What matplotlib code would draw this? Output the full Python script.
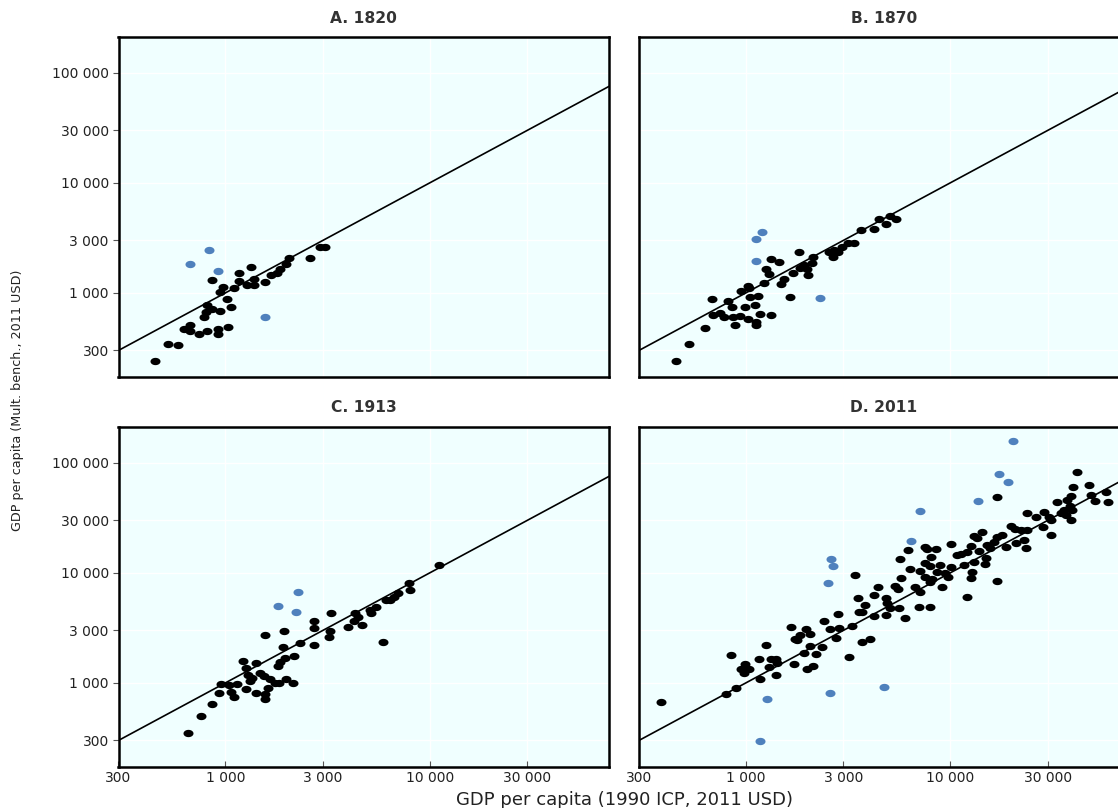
import matplotlib
matplotlib.use("Agg")
import matplotlib.pyplot as plt
import numpy as np
from matplotlib.path import Path
from matplotlib.ticker import FixedLocator, FuncFormatter, NullLocator

plt.rcParams['font.family'] = ['DejaVu Sans']

# ---------------- data ----------------
panel_titles = ["A. 1820", "B. 1870", "C. 1913", "D. 2011"]
tick_values = [300, 1000, 3000, 10000, 30000, 100000]
x_limits = (300, 75000)
y_limits = (172, 212000)

a_x = [453, 526, 587, 630, 672, 672, 742, 817, 919, 919, 1029, 788, 805, 812, 859, 943, 1064, 1017, 943, 979,
       1105, 859, 1160, 1165, 1328, 1275, 1374, 1374, 1555, 1677, 1789, 1842, 1980, 2039, 2605, 2916, 3086]
a_y = [241, 344, 337, 474, 512, 454, 421, 454, 468, 424, 488, 601, 672, 773, 715, 682, 741, 882, 1015, 1127,
       1103, 1305, 1294, 1529, 1734, 1182, 1182, 1332, 1267, 1457, 1511, 1643, 1835, 2068, 2094, 2603, 2636]
a_bx = [836, 672, 919, 1555]
a_by = [2460, 1847, 1594, 605]

b_x = [455, 528, 634, 681, 694, 749, 786, 822, 854, 886, 870, 938, 993, 1019, 1111, 1119, 1124, 1175, 1331, 1050,
       1153, 949, 1019, 1042, 1230, 1258, 1297, 1331, 1457, 1485, 1529, 1636, 1700, 1811, 1846, 1931, 2014, 1992,
       2107, 2131, 2541, 2658, 2688, 2813, 2956, 3149, 3396, 3664, 4223, 4468, 4836, 5099, 5457]
b_y = [241, 346, 478, 876, 631, 654, 601, 851, 751, 509, 601, 622, 751, 577, 773, 548, 512, 640, 631, 914,
       939, 1043, 1158, 1103, 1225, 1643, 1488, 2025, 1925, 1200, 1332, 914, 1529, 2374, 1677, 1797, 1457, 1653,
       1886, 2111, 2374, 2138, 2460, 2344, 2636, 2866, 2830, 3738, 3794, 4707, 4212, 5012, 4677]
b_bx = [1202, 1115, 1124, 2296]
b_by = [3563, 3077, 1954, 895]

c_x = [660, 759, 862, 936, 951, 1064, 1105, 1047, 1139, 1269, 1411, 1555, 1567, 1609, 1219, 1260, 1411, 1289,
       1349, 1323, 1470, 1538, 1658, 1741, 1836, 1980, 2143, 1809, 1842, 1965, 2175, 1905, 1567, 1927, 2309,
       2716, 2704, 2726, 3217, 3265, 3291, 3988, 4280, 4328, 4463, 4686, 5127, 5185, 5470, 5938, 6142, 6427,
       6671, 7010, 7935, 8054, 11085]
c_y = [351, 501, 648, 811, 979, 834, 746, 959, 973, 888, 806, 794, 720, 906, 1575, 1377, 1520, 1182, 1117,
       1043, 1240, 1158, 1080, 998, 998, 1080, 1006, 1427, 1552, 1698, 1760, 2111, 2732, 2970, 2296, 3661, 3143,
       2202, 2636, 2970, 4301, 3209, 3661, 4328, 4006, 3368, 4609, 4301, 4877, 2344, 5682, 5682, 6088, 6538,
       8161, 7005, 11820]
c_bx = [2275, 1816, 2207]
c_by = [6761, 5044, 4420]

d_x = [385, 804, 894, 845, 985, 945, 1042, 974, 1175, 1166, 1254, 1297, 1331, 1408, 1419, 1397, 1668, 1712,
       1745, 1832, 1779, 1969, 2067, 1931, 2067, 2194, 2348, 1992, 2131, 2421, 2591, 2835, 2845, 2763, 3185,
       3321, 3424, 3542, 3566, 3705, 3833, 3717, 4036, 4223, 4257, 4418,
       41950, 40100, 48040, 57940, 59270, 50990, 48750, 17000, 38880, 37470, 33460, 38580, 36060, 39640, 34730,
       36880, 38880, 28770, 30450, 31030, 26280, 23860, 28580, 31140, 19760, 20670, 22120, 23860, 22960, 23410,
       21070, 18670, 17000, 17990, 16370, 14240, 13050, 13570, 15190, 15640, 12580, 13810, 12120, 11240, 10830,
       10040, 8570, 7571, 7717, 6197, 14900, 13050, 14730, 11660, 10040, 8100, 7571, 8010, 8896, 5664, 7155,
       6390, 8640, 9485, 9736, 8164, 7571, 8010, 12820, 12580, 16870, 5754, 5354, 5562, 6761, 7097, 9068, 4857,
       4912, 5059, 5601, 7018, 8010, 12120, 4875, 5992]
d_y = [672, 790, 901, 1786, 1479, 1332, 1332, 1225, 1094, 1643, 2229, 1398, 1663, 1663, 1511, 1182, 3209, 1488,
       2496, 2732, 2460, 3077, 2772, 1886, 2169, 1835, 2111, 1332, 1437, 3661, 3096, 4212, 3182, 2581, 1713,
       3277, 9530, 5888, 4448, 4448, 5150, 2344, 2496, 6310, 4091, 7413,
       82300, 60120, 63100, 54840, 44480, 45430, 51190, 49390, 50120, 46090, 43920, 40650, 37390, 37390, 34890,
       33680, 30330, 36080, 32500, 30330, 32100, 34890, 26360, 22290, 26750, 25270, 24600, 24600, 19950, 16770,
       18620, 17340, 21380, 22010, 19250, 23590, 21690, 20680, 17970, 16770, 17710, 15940, 15620, 14880, 14490,
       18230, 16530, 17340, 16530, 16190, 13600, 12670, 12000, 11900, 11410, 13890, 12410, 11580, 11820, 13320,
       10490, 10800, 10270, 9937, 9140, 8820, 9140, 8334, 10270, 9064, 8511, 9064, 7663, 7153, 7506, 6675, 7506,
       5888, 5303, 4777, 4777, 4939, 4877, 6012, 4152, 3873]
d_bx = [2620, 2671, 2513, 1272, 2591, 1172, 20210, 17250, 19250, 13720, 7155, 6463, 4765]
d_by = [13410, 11580, 8060, 711, 806, 295, 159400, 78940, 66740, 45430, 36850, 19540, 920]

panels = [(a_x, a_y, a_bx, a_by), (b_x, b_y, b_bx, b_by), (c_x, c_y, c_bx, c_by), (d_x, d_y, d_bx, d_by)]

# ---------------- style ----------------
BG = "#F0FFFF"
BLUE = "#4F81BD"
theta = np.linspace(0, 2 * np.pi, 60)
ellipse = Path(np.column_stack([1.37 * np.cos(theta), np.sin(theta)]), closed=True)

W, H = 1118, 808
fig = plt.figure(figsize=(W / 100, H / 100), dpi=100)

ax_w, ax_h = 490 / W, 340 / H
lefts = [118.5 / W, 639 / W]
bottoms = [1 - 377 / H, 1 - 767 / H]

fmt = FuncFormatter(lambda v, p: f"{int(round(v)):,}".replace(",", " "))

for i, (bx, by, ux, uy) in enumerate(panels):
    row, col = divmod(i, 2)
    ax = fig.add_axes([lefts[col], bottoms[row], ax_w, ax_h])
    ax.set_facecolor(BG)
    ax.set_xscale("log")
    ax.set_yscale("log")
    ax.set_xlim(*x_limits)
    ax.set_ylim(*y_limits)
    ax.xaxis.set_major_locator(FixedLocator(tick_values))
    ax.yaxis.set_major_locator(FixedLocator(tick_values))
    ax.xaxis.set_minor_locator(NullLocator())
    ax.yaxis.set_minor_locator(NullLocator())
    ax.xaxis.set_major_formatter(fmt)
    ax.yaxis.set_major_formatter(fmt)
    ax.grid(True, color="white", linewidth=1.0)
    ax.set_axisbelow(True)
    for s in ax.spines.values():
        s.set_linewidth(1.8)
        s.set_color("black")

    ax.tick_params(axis="y", direction="out", length=4, width=0.8, color="#555555",
                   labelsize=10, labelcolor="#222222", pad=3,
                   left=(col == 0), labelleft=(col == 0))
    ax.tick_params(axis="x", direction="in", length=4, width=0.8, color="#555555",
                   labelsize=10, labelcolor="#222222", pad=3,
                   bottom=(row == 1), labelbottom=(row == 1))

    ax.axline((x_limits[0], x_limits[0]), (x_limits[1], x_limits[1]), color="black", lw=1.2, zorder=2)
    ax.scatter(bx, by, marker=ellipse, s=52, color="black", linewidths=0, zorder=3)
    ax.scatter(ux, uy, marker=ellipse, s=52, color=BLUE, linewidths=0, zorder=3)

    ax.text(0.5, 1 + 19 / 340, panel_titles[i], transform=ax.transAxes, ha="center", va="center",
            fontsize=11.2, fontweight="bold", color="#333333")

fig.text(624 / W, 1 - 800 / H, "GDP per capita (1990 ICP, 2011 USD)", ha="center", va="center",
         fontsize=13, color="#222222")
fig.text(18 / W, 1 - 400 / H, "GDP per capita (Mult. bench., 2011 USD)", ha="center", va="center",
         rotation=90, fontsize=9.2, color="#222222")

fig.savefig("out.png", dpi=100)
